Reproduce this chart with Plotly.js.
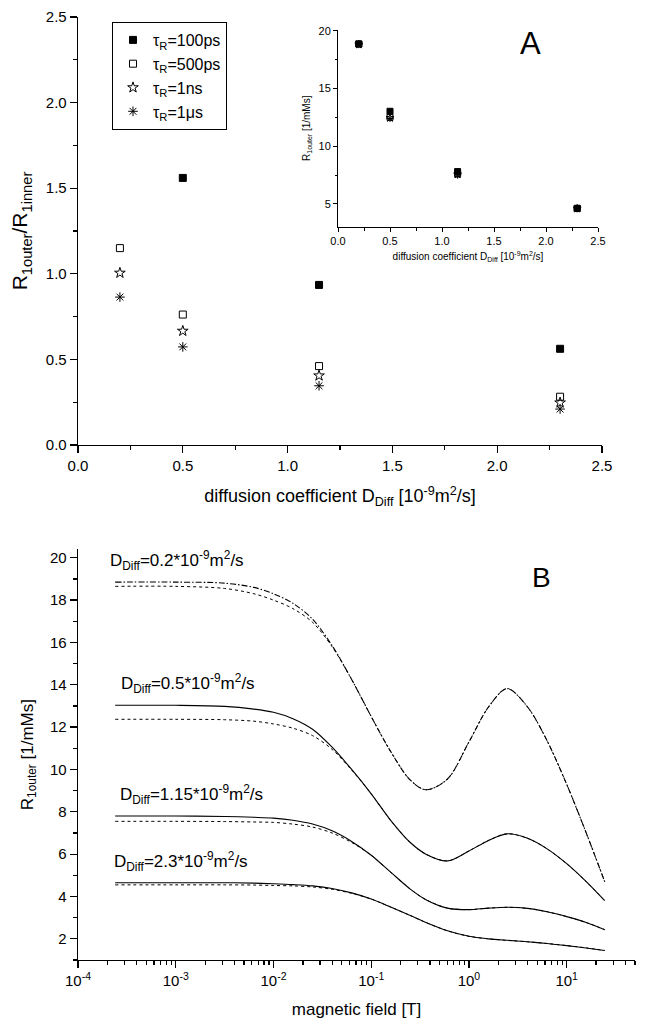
<!DOCTYPE html>
<html><head><meta charset="utf-8">
<script src="https://cdn.plot.ly/plotly-3.0.1.min.js"></script>
<style>html,body{margin:0;padding:0;background:#fff}#chart{width:654px;height:1022px}</style>
</head><body><div id="chart"></div>
<script>
// ---- Panel A (main): R1outer/R1inner vs diffusion coefficient ----
const diffusion = [0.2, 0.5, 1.15, 2.3];
const ratio100ps = [null, 1.56, 0.935, 0.562];
const ratio500ps = [1.15, 0.762, 0.461, 0.282];
const ratio1ns   = [1.005, 0.666, 0.405, 0.247];
const ratio1us   = [0.864, 0.573, 0.346, 0.21];
// ---- Panel A (inset): R1outer vs diffusion coefficient ----
const r1out100ps = [18.85, 13.02, 7.8, 4.62];
const r1out500ps = [18.85, 12.5, 7.6, 4.6];
const r1out1ns   = [18.8, 12.45, 7.55, 4.6];
const r1out1us   = [18.8, 12.4, 7.5, 4.58];
const seriesNames = ['τ<sub>R</sub>=100ps','τ<sub>R</sub>=500ps','τ<sub>R</sub>=1ns','τ<sub>R</sub>=1μs'];
// ---- Panel B: R1outer vs magnetic field ----
const field = [0.00024,0.001,0.00316,0.00631,0.01,0.0158,0.0251,0.0398,0.0631,0.1,0.158,0.251,0.363,0.603,1.0,1.585,2.455,3.98,6.31,10,15.85,24.5];
const d02_full = [18.85,18.85,18.8,18.6,18.3,17.85,17.1,15.85,14.25,12.5,10.85,9.5,9.04,9.55,11.3,12.95,13.82,12.95,11.35,9.3,7.0,4.7];
const d02_dot  = [18.65,18.65,18.55,18.3,18.0,17.6,16.95,15.8,14.25,12.5,10.85,9.5,9.04,9.55,11.3,12.95,13.82,12.95,11.35,9.3,7.0,4.7];
const d05_full = [13.03,13.03,12.98,12.85,12.7,12.4,11.9,11.05,10.0,8.85,7.6,6.55,6.0,5.68,6.15,6.65,6.96,6.75,6.25,5.55,4.7,3.8];
const d05_dot  = [12.37,12.37,12.35,12.28,12.15,11.95,11.6,10.95,9.97,8.85,7.6,6.55,6.0,5.68,6.15,6.65,6.96,6.75,6.25,5.55,4.7,3.8];
const d115_full = [7.8,7.8,7.78,7.74,7.7,7.6,7.42,7.1,6.6,5.95,5.15,4.35,3.85,3.45,3.38,3.45,3.49,3.44,3.28,3.05,2.77,2.43];
const d115_dot  = [7.55,7.55,7.54,7.52,7.5,7.42,7.28,7.0,6.55,5.95,5.15,4.35,3.85,3.45,3.38,3.45,3.49,3.44,3.28,3.05,2.77,2.43];
const d23_full = [4.65,4.65,4.65,4.63,4.6,4.56,4.5,4.38,4.17,3.88,3.5,3.1,2.77,2.38,2.12,2.0,1.93,1.86,1.78,1.68,1.57,1.45];
const d23_dot  = [4.55,4.55,4.55,4.54,4.52,4.5,4.45,4.34,4.15,3.88,3.5,3.1,2.77,2.38,2.12,2.0,1.93,1.86,1.78,1.68,1.57,1.45];
const curveLabels = ['D<sub>Diff</sub>=0.2*10<sup>-9</sup>m<sup>2</sup>/s','D<sub>Diff</sub>=0.5*10<sup>-9</sup>m<sup>2</sup>/s','D<sub>Diff</sub>=1.15*10<sup>-9</sup>m<sup>2</sup>/s','D<sub>Diff</sub>=2.3*10<sup>-9</sup>m<sup>2</sup>/s'];
const fieldTickVals = [1e-4,1e-3,1e-2,1e-1,1,10];
const fieldTickText = ['10<sup>-4</sup>','10<sup>-3</sup>','10<sup>-2</sup>','10<sup>-1</sup>','10<sup>0</sup>','10<sup>1</sup>'];

const FONT = 'Liberation Sans, Arial, sans-serif';
const W = 654, H = 1022;
const px = v => v / W, py = v => 1 - v / H;

const symbols = ['square','square-open','star-open','asterisk-open'];
const mainSeries = [ratio100ps, ratio500ps, ratio1ns, ratio1us];
const insetSeries = [r1out100ps, r1out500ps, r1out1ns, r1out1us];
const traces = [];
mainSeries.forEach((s, i) => {
  traces.push({x: diffusion, y: s, type:'scatter', mode:'markers', name: seriesNames[i],
    xaxis:'x', yaxis:'y', cliponaxis:false,
    marker:{symbol: symbols[i], size: i<2?7:8, color:'#000', line:{color:'#000', width:1}}});
});
insetSeries.forEach((s, i) => {
  traces.push({x: diffusion, y: s, type:'scatter', mode:'markers', showlegend:false,
    xaxis:'x2', yaxis:'y2', cliponaxis:false,
    marker:{symbol: symbols[i], size: 6, color:'#000', line:{color:'#000', width:1}}});
});
const curves = [[d02_full, d02_dot, 'dashdot'], [d05_full, d05_dot, 'solid'], [d115_full, d115_dot, 'solid'], [d23_full, d23_dot, 'solid']];
curves.forEach(c => {
  traces.push({x: field, y: c[1], type:'scatter', mode:'lines', showlegend:false, xaxis:'x3', yaxis:'y3',
    line:{color:'#000', width:1, dash:'dot', shape:'spline', smoothing:0.9}});
  traces.push({x: field, y: c[0], type:'scatter', mode:'lines', showlegend:false, xaxis:'x3', yaxis:'y3',
    line:{color:'#000', width:1.1, dash:c[2]==='dashdot'?'6px,2px,1.5px,2px':'solid', shape:'spline', smoothing:0.9}});
});

const minorLog = [];
for (let e = -4; e <= 1; e++) for (let m = 2; m <= 9; m++) { const v = m * Math.pow(10, e); if (v <= 50) minorLog.push(v); }

function ax(o) {
  return Object.assign({showline:true, linecolor:'#000', linewidth:1.3, mirror:false, showgrid:false, zeroline:false,
    ticks:'outside', ticklen:7, tickwidth:1.3, tickcolor:'#000', automargin:false, fixedrange:true,
    tickfont:{family:FONT, size:15, color:'#000'}}, o);
}

const layout = {
  width: W, height: H, margin:{l:0, r:0, t:0, b:0}, paper_bgcolor:'#fff', plot_bgcolor:'rgba(0,0,0,0)',
  font:{family:FONT, color:'#000'},
  showlegend:true,
  legend:{x:px(112), y:py(22), xanchor:'left', yanchor:'top', bordercolor:'#000', borderwidth:1, bgcolor:'#fff',
    font:{family:FONT, size:16, color:'#000'}, tracegroupgap:0, itemwidth:30},
  xaxis: ax({domain:[px(78), px(602)], range:[0, 2.5], anchor:'y', dtick:0.5, tickformat:'.1f',
    minor:{dtick:0.25, ticks:'outside', ticklen:4, tickwidth:1.3, tickcolor:'#000'},
    title:{text:'diffusion coefficient D<sub>Diff</sub> [10<sup>-9</sup>m<sup>2</sup>/s]', font:{family:FONT, size:18}, standoff:16}}),
  yaxis: ax({domain:[py(445), py(17)], range:[0, 2.5], anchor:'x', dtick:0.5, tickformat:'.1f',
    minor:{dtick:0.25, ticks:'outside', ticklen:4, tickwidth:1.3, tickcolor:'#000'},
    title:{text:'R<sub>1outer</sub>/R<sub>1inner</sub>', font:{family:FONT, size:21}, standoff:12}}),
  xaxis2: ax({domain:[px(338), px(598)], range:[0, 2.5], anchor:'y2', dtick:0.5, tickformat:'.1f', ticklen:4, tickwidth:1,
    linewidth:1, tickfont:{family:FONT, size:11, color:'#000'},
    minor:{dtick:0.25, ticks:'outside', ticklen:2.5, tickwidth:1, tickcolor:'#000'},
    title:{text:'diffusion coefficient D<sub>Diff</sub> [10<sup>-9</sup>m<sup>2</sup>/s]', font:{family:FONT, size:10}, standoff:6}}),
  yaxis2: ax({domain:[py(227), py(29.5)], range:[3, 20.1], anchor:'x2', dtick:5, tick0:0, ticklen:4, tickwidth:1,
    linewidth:1, tickfont:{family:FONT, size:11, color:'#000'},
    minor:{dtick:2.5, tick0:0, ticks:'outside', ticklen:2.5, tickwidth:1, tickcolor:'#000'},
    title:{text:'R<sub>1outer</sub> [1/mMs]', font:{family:FONT, size:10}, standoff:6}}),
  xaxis3: ax({domain:[px(78), px(635)], type:'log', range:[-4, Math.log10(50)], anchor:'y3',
    tickmode:'array', tickvals: fieldTickVals, ticktext: fieldTickText,
    minor:{tickmode:'array', tickvals: minorLog, ticks:'outside', ticklen:4, tickwidth:1.3, tickcolor:'#000'},
    title:{text:'magnetic field [T]', font:{family:FONT, size:17}, standoff:14}}),
  yaxis3: ax({domain:[py(960), py(549.3)], range:[1, 20.4], anchor:'x3', dtick:2, tick0:0,
    minor:{dtick:1, tick0:0, ticks:'outside', ticklen:4, tickwidth:1.3, tickcolor:'#000'},
    title:{text:'R<sub>1outer</sub> [1/mMs]', font:{family:FONT, size:17}, standoff:12}}),
  annotations: [
    {text:'A', xref:'paper', yref:'paper', x:px(530), y:py(43), xanchor:'center', yanchor:'middle', showarrow:false, font:{family:FONT, size:31}},
    {text:'B', xref:'paper', yref:'paper', x:px(541), y:py(577), xanchor:'center', yanchor:'middle', showarrow:false, font:{family:FONT, size:28}},
    {text:curveLabels[0], xref:'paper', yref:'y3', x:px(108), y:19.85, xanchor:'left', yanchor:'middle', showarrow:false, font:{family:FONT, size:17}},
    {text:curveLabels[1], xref:'paper', yref:'y3', x:px(119), y:14.05, xanchor:'left', yanchor:'middle', showarrow:false, font:{family:FONT, size:17}},
    {text:curveLabels[2], xref:'paper', yref:'y3', x:px(118), y:8.8, xanchor:'left', yanchor:'middle', showarrow:false, font:{family:FONT, size:17}},
    {text:curveLabels[3], xref:'paper', yref:'y3', x:px(112), y:5.65, xanchor:'left', yanchor:'middle', showarrow:false, font:{family:FONT, size:17}}
  ]
};
Plotly.newPlot('chart', traces, layout, {staticPlot:true, displayModeBar:false});
</script></body></html>
